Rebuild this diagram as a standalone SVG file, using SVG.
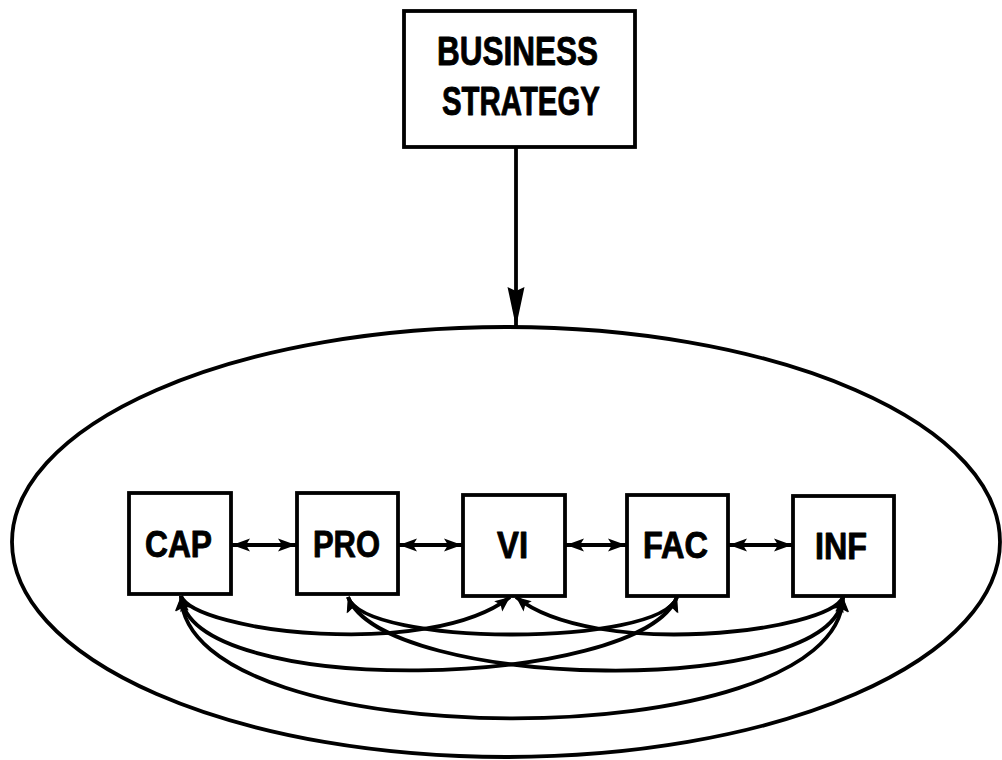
<svg xmlns="http://www.w3.org/2000/svg" width="1002" height="760" viewBox="0 0 1002 760">
  <style>
    .box { fill: #fff; stroke: #000; stroke-width: 3.8; }
    .lbl { font-family: "Liberation Sans", Arial, sans-serif; font-weight: bold; fill: #000; stroke: #000; stroke-width: 0.9; stroke-linejoin: round; text-anchor: middle; }
    .link { fill: none; stroke: #000; stroke-width: 3.8; }
    .curve { fill: none; stroke: #000; stroke-width: 3.8; marker-start: url(#head); marker-end: url(#head); }
    .pair { fill: none; stroke: #000; stroke-width: 3.8; marker-start: url(#side); marker-end: url(#side); }
  </style>
  <defs>
    <!-- barbed arrowhead for the curved links -->
    <marker id="head" markerUnits="userSpaceOnUse" markerWidth="20" markerHeight="16" viewBox="0 -8 20 16" refX="16" refY="0" orient="auto-start-reverse">
      <path d="M16,0 L1,-6.5 L4,0 L1,6.5 Z" fill="#000"/>
    </marker>
    <!-- slightly larger head for the links between neighbours -->
    <marker id="side" markerUnits="userSpaceOnUse" markerWidth="22" markerHeight="16" viewBox="0 -8 22 16" refX="19" refY="0" orient="auto-start-reverse">
      <path d="M19,0 L1,-6.5 L5,0 L1,6.5 Z" fill="#000"/>
    </marker>
    <!-- long narrow head for the strategy arrow -->
    <marker id="long" markerUnits="userSpaceOnUse" markerWidth="44" markerHeight="20" viewBox="0 -10 44 20" refX="42" refY="0" orient="auto">
      <path d="M42,0 L2,-8.5 L6,0 L2,8.5 Z" fill="#000"/>
    </marker>
  </defs>

  <rect width="1002" height="760" fill="#fff"/>

  <!-- enclosing ellipse -->
  <ellipse id="enclosure" cx="506" cy="542" rx="494" ry="215" fill="none" stroke="#000" stroke-width="3.8"/>

  <g id="connectors">
    <!-- strategy down to the enclosure -->
    <path class="link" d="M516,148 L516,327" marker-end="url(#long)"/>
    <!-- neighbour links -->
    <path class="pair" d="M232,545 L296,545"/>
    <path class="pair" d="M399,545 L462,545"/>
    <path class="pair" d="M566,545 L626,545"/>
    <path class="pair" d="M729,545 L792,545"/>
    <!-- links below the row -->
    <path class="curve" d="M181,596 C195,632 430,660 510,597"/>
    <path class="curve" d="M843,597 C829,632 594,660 516,597"/>
    <path class="curve" d="M348,597 C365,647 660,647 677,597"/>
    <path class="curve" d="M181,596 C190,700 640,690 677,597"/>
    <path class="curve" d="M843,597 C834,700 384,690 348,597"/>
    <path class="curve" d="M181,596 C185,759 839,759 843,597"/>
  </g>

  <g id="strategy">
    <rect class="box" x="404" y="11" width="231" height="136"/>
    <text class="lbl" x="517.5" y="65" font-size="41" textLength="161" lengthAdjust="spacingAndGlyphs">BUSINESS</text>
    <text class="lbl" x="521" y="115" font-size="40" textLength="158" lengthAdjust="spacingAndGlyphs">STRATEGY</text>
  </g>

  <g id="cap">
    <rect class="box" x="129" y="493" width="102" height="101"/>
    <text class="lbl" x="178.5" y="557" font-size="37" textLength="67" lengthAdjust="spacingAndGlyphs">CAP</text>
  </g>
  <g id="pro">
    <rect class="box" x="297" y="493" width="101" height="101"/>
    <text class="lbl" x="346.5" y="557" font-size="37" textLength="67" lengthAdjust="spacingAndGlyphs">PRO</text>
  </g>
  <g id="vi">
    <rect class="box" x="463" y="495" width="102" height="101"/>
    <text class="lbl" x="512.5" y="558" font-size="37" textLength="31" lengthAdjust="spacingAndGlyphs">VI</text>
  </g>
  <g id="fac">
    <rect class="box" x="627" y="495" width="101" height="101"/>
    <text class="lbl" x="675.5" y="558" font-size="37" textLength="65" lengthAdjust="spacingAndGlyphs">FAC</text>
  </g>
  <g id="inf">
    <rect class="box" x="793" y="496" width="101" height="100"/>
    <text class="lbl" x="841" y="559" font-size="37" textLength="52" lengthAdjust="spacingAndGlyphs">INF</text>
  </g>
</svg>
